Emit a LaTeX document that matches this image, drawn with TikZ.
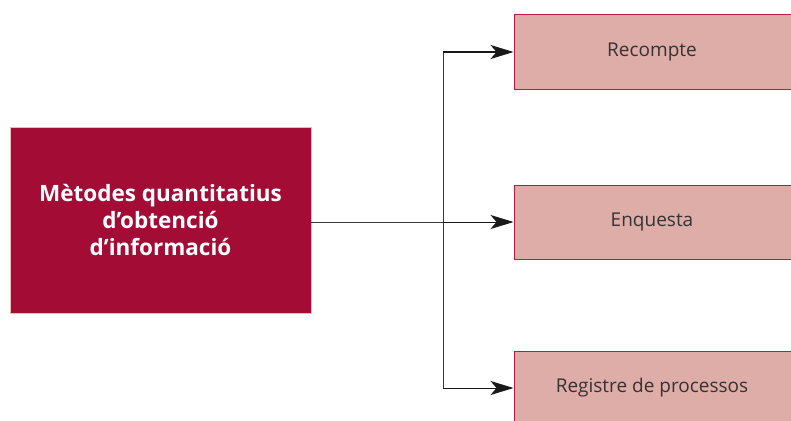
\documentclass[tikz,border=0pt]{standalone}
\usepackage{fontspec}
\setmainfont{Open Sans}
\usetikzlibrary{arrows.meta}
\definecolor{metodered}{HTML}{A20C35}
\definecolor{optpink}{HTML}{DFADA8}
\definecolor{optedge}{HTML}{C0163F}
\definecolor{lineg}{HTML}{3A3A3A}
\tikzset{
  mainbox/.style={draw=optpink!80!white,line width=0.6pt,fill=metodered,text=white,
    minimum width=301pt,minimum height=186pt,align=center,inner sep=0pt,
    font=\fontsize{22.5}{27}\selectfont\bfseries},
  optbox/.style={draw=optedge,line width=1pt,fill=optpink,text=black!80,
    minimum width=281pt,minimum height=74pt,inner sep=0pt,
    font=\fontsize{19}{22}\selectfont},
  conn/.style={draw=lineg,line width=1pt},
  tip/.style={-{Stealth[length=23pt,width=14pt,inset=6pt]},color=black!90}
}
\begin{document}
\begin{tikzpicture}[x=1pt,y=-1pt]
  \useasboundingbox (0,0) rectangle (791,420);
  \node[mainbox] (metodes) at (160.5,220) {Mètodes quantitatius\\d’obtenció\\d’informació};
  \node[optbox] (recompte) at (654.5,52) {\hspace*{-5pt}Recompte};
  \node[optbox] (enquesta) at (654.5,222) {\hspace*{-5pt}Enquesta};
  \node[optbox] (registre) at (654.5,388) {\hspace*{-5pt}Registre de processos};
  \coordinate (branch) at (443,0);

  % tronc i branques
  \draw[conn] (metodes.east |- enquesta.west) -- (enquesta.west -| branch);
  \draw[conn] (recompte.west -| branch) -- (registre.west -| branch);
  \foreach \opt in {recompte,enquesta,registre}
    \draw[conn,tip] (\opt.west -| branch) -- (\opt.west);
\end{tikzpicture}
\end{document}
